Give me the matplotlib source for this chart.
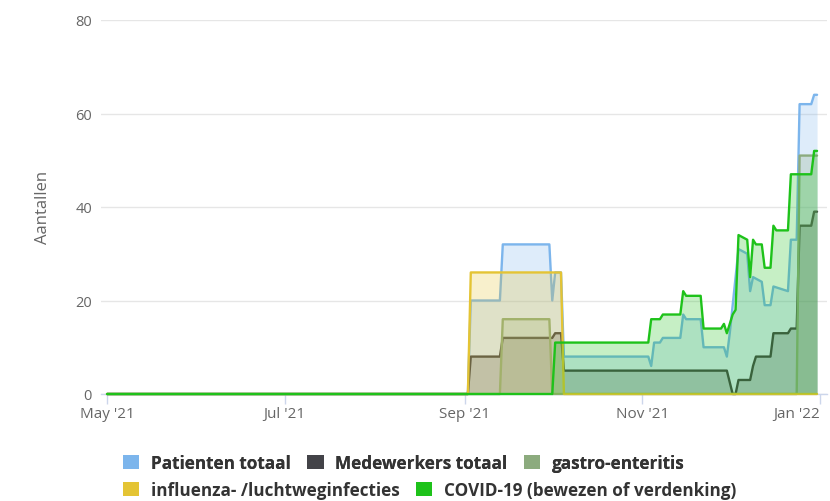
import matplotlib
matplotlib.use("Agg")
import matplotlib.pyplot as plt
from matplotlib.patches import Patch
import numpy as np

# ---------------- data ----------------
patienten_dates = ["2021-05-01", "2021-09-02", "2021-09-03", "2021-09-13", "2021-09-14",
                   "2021-09-30", "2021-10-01", "2021-10-02", "2021-10-04", "2021-10-05",
                   "2021-11-03", "2021-11-04", "2021-11-05", "2021-11-07", "2021-11-08",
                   "2021-11-14", "2021-11-15", "2021-11-16", "2021-11-21", "2021-11-22",
                   "2021-11-29", "2021-11-30", "2021-12-01", "2021-12-02", "2021-12-03",
                   "2021-12-04", "2021-12-07", "2021-12-08", "2021-12-09", "2021-12-12",
                   "2021-12-13", "2021-12-15", "2021-12-16", "2021-12-21", "2021-12-22",
                   "2021-12-24", "2021-12-25", "2021-12-29", "2021-12-30", "2021-12-31"]
patienten_vals = [0, 0, 20, 20, 32,
                  32, 20, 26, 26, 8,
                  8, 6, 11, 11, 12,
                  12, 17, 16, 16, 10,
                  10, 8, 13, 19, 25,
                  31, 30, 22, 25, 24,
                  19, 19, 23, 22, 33,
                  33, 62, 62, 64, 64]

medewerkers_dates = ["2021-05-01", "2021-09-02", "2021-09-03", "2021-09-13", "2021-09-14",
                     "2021-10-01", "2021-10-02", "2021-10-04", "2021-10-05", "2021-11-30",
                     "2021-12-02", "2021-12-03", "2021-12-04", "2021-12-08", "2021-12-09",
                     "2021-12-10", "2021-12-15", "2021-12-16", "2021-12-21", "2021-12-22",
                     "2021-12-24", "2021-12-25", "2021-12-29", "2021-12-30", "2021-12-31"]
medewerkers_vals = [0, 0, 8, 8, 12,
                    12, 13, 13, 5, 5,
                    0, 0, 3, 3, 6,
                    8, 8, 13, 13, 14,
                    14, 36, 36, 39, 39]

gastro_dates = ["2021-05-01", "2021-09-13", "2021-09-14", "2021-09-30", "2021-10-01",
                "2021-12-24", "2021-12-25", "2021-12-31"]
gastro_vals = [0, 0, 16, 16, 0, 0, 51, 51]

influenza_dates = ["2021-05-01", "2021-09-02", "2021-09-03", "2021-10-04", "2021-10-05",
                   "2021-12-31"]
influenza_vals = [0, 0, 26, 26, 0, 0]

covid_dates = ["2021-05-01", "2021-10-01", "2021-10-02", "2021-11-03", "2021-11-04",
               "2021-11-07", "2021-11-08", "2021-11-14", "2021-11-15", "2021-11-16",
               "2021-11-21", "2021-11-22", "2021-11-28", "2021-11-29", "2021-11-30",
               "2021-12-01", "2021-12-02", "2021-12-03", "2021-12-04", "2021-12-07",
               "2021-12-08", "2021-12-09", "2021-12-10", "2021-12-12", "2021-12-13",
               "2021-12-15", "2021-12-16", "2021-12-17", "2021-12-21", "2021-12-22",
               "2021-12-29", "2021-12-30", "2021-12-31"]
covid_vals = [0, 0, 11, 11, 16,
              16, 17, 17, 22, 21,
              21, 14, 14, 15, 13,
              15, 17, 18, 34, 33,
              25, 33, 32, 32, 27,
              27, 36, 35, 35, 47,
              47, 52, 52]

series_names = ["Patienten totaal", "Medewerkers totaal", "gastro-enteritis",
                "influenza- /luchtweginfecties", "COVID-19 (bewezen of verdenking)"]
series_colors = ["#7cb5ec", "#434348", "#8cab7e", "#e4c434", "#1ec21a"]

tick_dates = ["2021-05-01", "2021-07-01", "2021-09-01", "2021-11-01", "2022-01-01"]
tick_labels = ["May '21", "Jul '21", "Sep '21", "Nov '21", "Jan '22"]
y_ticks = [0, 20, 40, 60, 80]
y_label = "Aantallen"

# ---------------- plot ----------------
W, H = 830, 502
fig = plt.figure(figsize=(W / 100, H / 100), dpi=100)
ax = fig.add_axes([101 / W, (H - 395) / H, 726 / W, 374 / H])

all_series = [
    (patienten_dates, patienten_vals),
    (medewerkers_dates, medewerkers_vals),
    (gastro_dates, gastro_vals),
    (influenza_dates, influenza_vals),
    (covid_dates, covid_vals),
]

z = 2
for (d, v), c in zip(all_series, series_colors):
    dd = np.array(d, dtype="datetime64[D]")
    vv = np.array(v, dtype=float)
    ax.fill_between(dd, 0, vv, color=c, alpha=0.25, lw=0, zorder=z)
    ax.plot(dd, vv, color=c, lw=1.7, solid_joinstyle="round", solid_capstyle="round",
            zorder=z + 1, clip_on=False)
    z += 2

x0 = np.datetime64("2021-05-01") - np.timedelta64(50, "h")
x1 = np.datetime64("2022-01-01") + np.timedelta64(58, "h")
ax.set_xlim(x0, x1)
ax.set_ylim(0, 80)

ax.set_yticks(y_ticks)
ax.set_xticks(np.array(tick_dates, dtype="datetime64[D]"), tick_labels)

for s in ["top", "right", "left"]:
    ax.spines[s].set_visible(False)
ax.spines["bottom"].set_color("#ccd6eb")
ax.spines["bottom"].set_linewidth(1)
ax.spines["bottom"].set_zorder(1)

ax.grid(axis="y", color="#e6e6e6", lw=1, zorder=0)
ax.set_axisbelow(True)

ax.tick_params(axis="y", length=0, pad=6.5, labelsize=10.5, labelcolor="#666666")
ax.tick_params(axis="x", length=7.5, width=1, color="#ccd6eb", pad=1,
               labelsize=11, labelcolor="#666666")
for lab in ax.get_xticklabels() + ax.get_yticklabels():
    lab.set_fontfamily("Open Sans")
xlabs = ax.get_xticklabels()
xlabs[-1].set_horizontalalignment("right")

fig.text(43 / W, 1 - 207 / H, y_label, rotation=90, ha="center", va="center",
         fontsize=12, color="#666666", family="Open Sans")

# legend: two rows, left-aligned
handles = [Patch(facecolor=c, edgecolor="none") for c in series_colors]
leg_kw = dict(loc="center left", frameon=False, handlelength=0.95, handleheight=0.95,
              handletextpad=0.7, columnspacing=0.95, borderpad=0, borderaxespad=0,
              prop={"family": "Open Sans", "weight": "bold", "size": 12.3},
              labelcolor="#333333")
leg1 = fig.legend(handles[:3], series_names[:3], ncol=3,
                  bbox_to_anchor=(123 / W, 1 - 464 / H), **leg_kw)
fig.add_artist(leg1)
leg2 = fig.legend(handles[3:], series_names[3:], ncol=2,
                  bbox_to_anchor=(123 / W, 1 - 491 / H), **leg_kw)

fig.savefig("out.png", dpi=100)
